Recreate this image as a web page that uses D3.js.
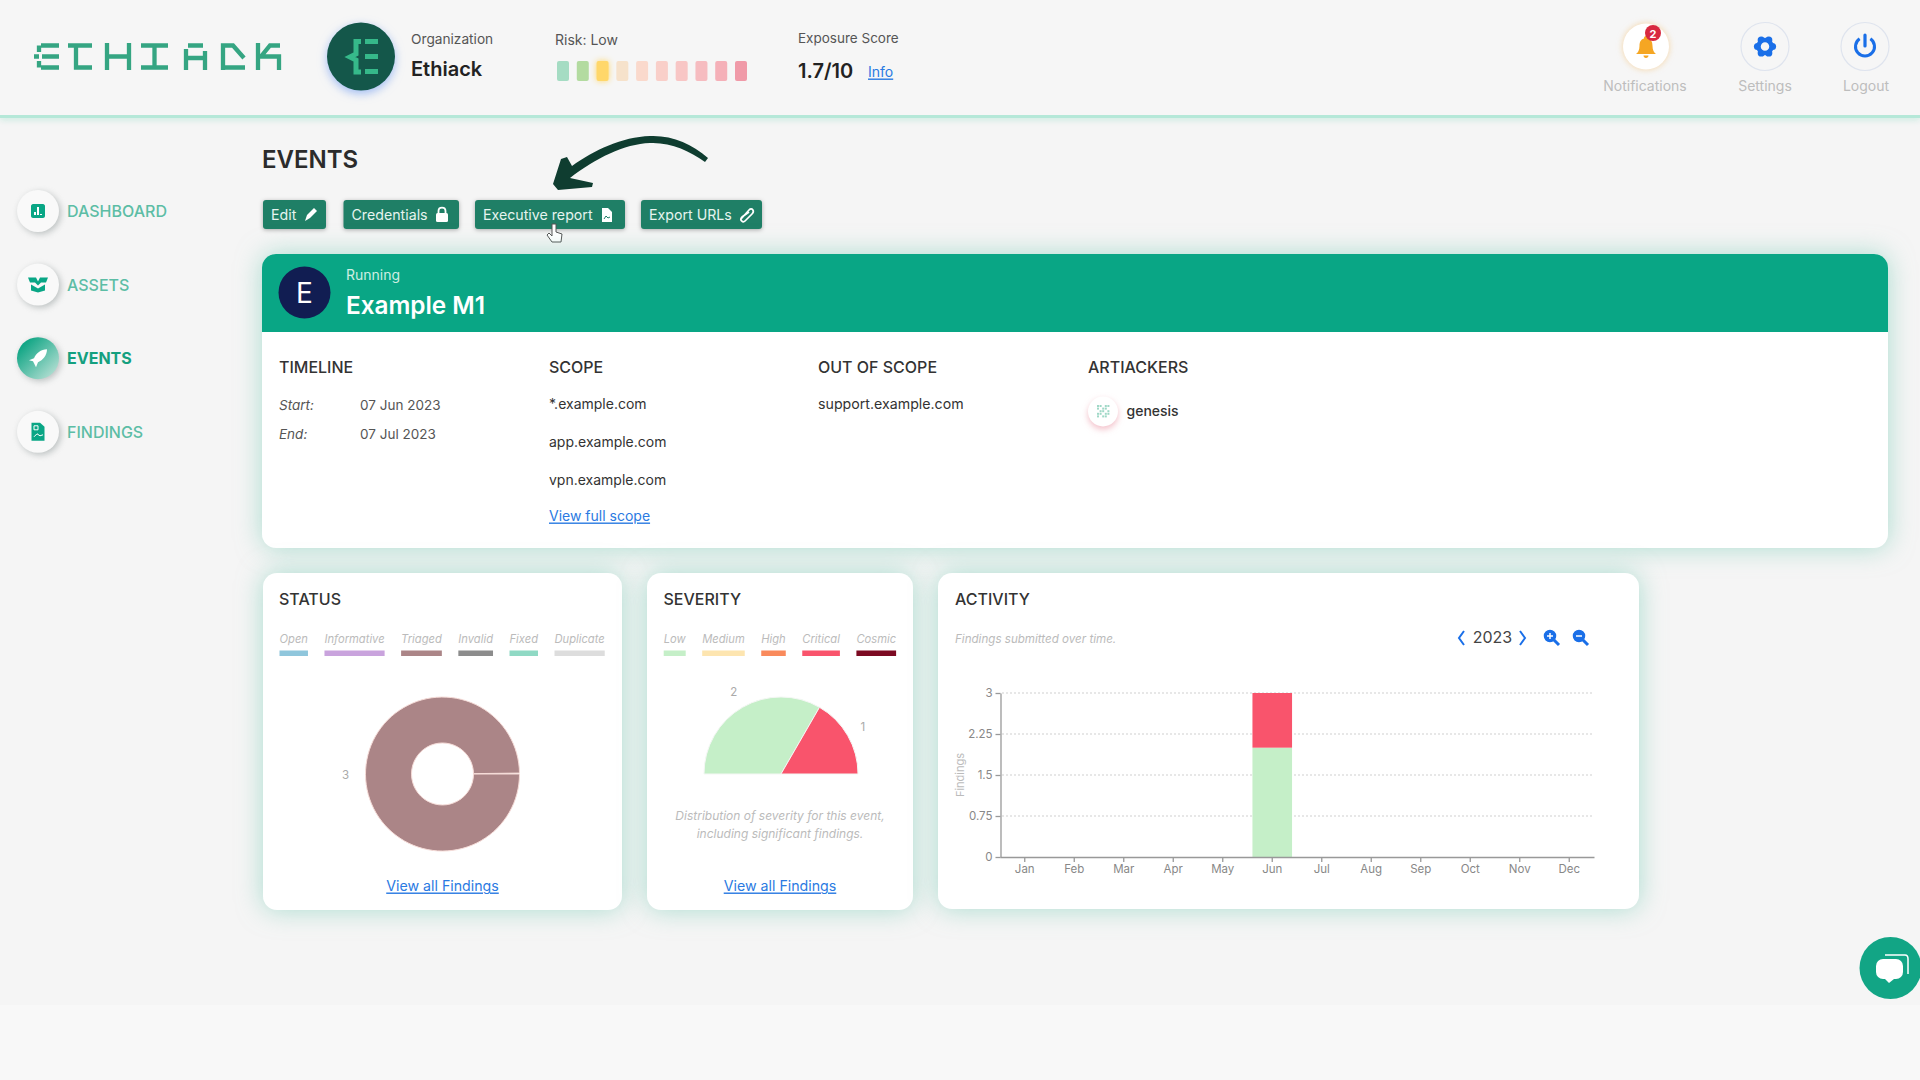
<!DOCTYPE html>
<html>
<head>
<meta charset="utf-8">
<title>Ethiack - Events</title>
<script src="https://cdn.jsdelivr.net/npm/d3@7"></script>
<style>
  html, body { margin: 0; padding: 0; background: #f5f5f5; overflow: hidden; }
  svg { display: block; font-family: Inter, "Noto Sans", sans-serif; }
</style>
</head>
<body>
<svg id="page" width="1920" height="1080"></svg>
<script>
// chart values
const statusNames = ["Open", "Informative", "Triaged", "Invalid", "Fixed", "Duplicate"];
const statusValues = [0, 0, 3, 0, 0, 0];
const statusColors = ["#8fc6dc", "#c9a3dd", "#ab8587", "#8c8c8c", "#8fd9c4", "#dddddd"];

const severityNames = ["Low", "Medium", "High", "Critical", "Cosmic"];
const severityValues = [2, 0, 0, 1, 0];
const severityColors = ["#c5efc8", "#fde5b0", "#f98a5c", "#f9546c", "#7c0a22"];

const months = ["Jan", "Feb", "Mar", "Apr", "May", "Jun", "Jul", "Aug", "Sep", "Oct", "Nov", "Dec"];
const lowByMonth = [0, 0, 0, 0, 0, 2, 0, 0, 0, 0, 0, 0];
const criticalByMonth = [0, 0, 0, 0, 0, 1, 0, 0, 0, 0, 0, 0];
const activityTicks = [0, 0.75, 1.5, 2.25, 3];

const riskColors = ["#a5dcc3", "#b3dba0", "#ffd76a", "#f6e2cb", "#fad9cc", "#f9cfc9", "#f8c6c5", "#f6bcc0", "#f5b0b8", "#f09aa8"];
const riskLevels = d3.range(1, 11);

const navItems = ["DASHBOARD", "ASSETS", "EVENTS", "FINDINGS"];
const scopeItems = ["*.example.com", "app.example.com", "vpn.example.com"];

const GREEN = "#09a685", DARKBTN = "#1f7f66", LINK = "#2a7ae2", BLUE = "#1a6fe8";
const svg = d3.select("#page");
const defs = svg.append("defs");

function txt(parent, x, y, str, o) {
  o = o || {};
  return parent.append("text")
    .attr("x", x).attr("y", y)
    .attr("dominant-baseline", "central")
    .attr("text-anchor", o.anchor || "start")
    .attr("font-size", o.size || 14)
    .attr("font-weight", o.weight || 400)
    .attr("font-style", o.italic ? "italic" : "normal")
    .attr("text-decoration", o.underline ? "underline" : "none")
    .attr("fill", o.fill || "#333")
    .text(str);
}

function card(x, y, w, h) {
  return svg.append("rect")
    .attr("x", x).attr("y", y).attr("width", w).attr("height", h).attr("rx", 14)
    .attr("fill", "#fff")
    .style("filter", "drop-shadow(0 0 13px rgba(95,195,170,.5))");
}

// page background and top bar
svg.append("rect").attr("width", 1920).attr("height", 1080).attr("fill", "#f5f5f5");
svg.append("rect").attr("y", 1005).attr("width", 1920).attr("height", 75).attr("fill", "#f8f8f8");
svg.append("rect").attr("y", 115).attr("width", 1920).attr("height", 3).attr("fill", "#b5e8d8")
  .style("filter", "drop-shadow(0 1px 3px rgba(140,220,195,.7))");
svg.append("rect").attr("width", 1920).attr("height", 115).attr("fill", "#f6f6f6");

// logo letters
const logoPaths = [
  [34, "M7 2.5H25M8 13.5H25M7 24.5H25M5 2.5V9M5 18V24.5M0 13.5H5"],
  [68, "M0 2.5H24M8 2.5V24.5H24"],
  [104, "M3 0V27M25 0V27M3 13.5H25"],
  [141, "M0 2.5H27M0 24.5H27M13.5 2.5V24.5"],
  [183, "M5 2.5H20M3 6V27M22 8V27M3 15H22"],
  [220, "M3 27V2.5H13L24 15M3 24.5H25"],
  [255, "M3 0V27M25 2.5H15L6 13.5H24V27"]
];
const logo = svg.append("g").attr("transform", "translate(0,43)");
logoPaths.forEach(p => {
  logo.append("path").attr("transform", `translate(${p[0]},0)`).attr("d", p[1])
    .attr("fill", "none").attr("stroke", "#35a582").attr("stroke-width", 4.3);
});

// organization
svg.append("circle").attr("cx", 361).attr("cy", 56.5).attr("r", 34).attr("fill", "#14574a")
  .style("filter", "drop-shadow(0 3px 5px rgba(90,140,240,.55))");
svg.append("path").attr("transform", "translate(347,39)")
  .attr("d", "M14 2.5H9V15L3 18L9 21V33H14M18 2.5H31M18 17.5H31M18 32.5H31")
  .attr("fill", "none").attr("stroke", "#36b98a").attr("stroke-width", 5);
txt(svg, 411, 39, "Organization", {size: 13.7, fill: "#555"});
txt(svg, 411, 69, "Ethiack", {size: 20, weight: 600, fill: "#222"});

// risk meter
txt(svg, 555, 39, "Risk: Low", {size: 14, fill: "#555"});
const riskX = d3.scaleLinear().domain([1, 10]).range([557, 735]);
svg.selectAll("rect.risk").data(riskLevels).enter().append("rect")
  .attr("class", "risk")
  .attr("x", d => riskX(d)).attr("y", 61)
  .attr("width", 12).attr("height", 20).attr("rx", 2)
  .attr("fill", (d, i) => riskColors[i])
  .style("filter", d => d === 3 ? "drop-shadow(0 0 3px #ffd76a)" : null);

// exposure score
txt(svg, 798, 38, "Exposure Score", {size: 13.5, fill: "#555"});
txt(svg, 798, 71, "1.7/10", {size: 20, weight: 600, fill: "#222"});
txt(svg, 868, 71, "Info", {size: 14, fill: LINK, underline: true});

// top right buttons
svg.append("circle").attr("cx", 1646).attr("cy", 46.5).attr("r", 23).attr("fill", "#fff")
  .style("filter", "drop-shadow(0 0 3px rgba(245,190,110,.6))");
svg.append("path").attr("transform", "translate(1636,36)")
  .attr("d", "M10 0C11.5 0 12 1 12 2.5C15.5 3.5 16.5 6.5 16.5 10C16.5 14 18 16.5 20 18H0C2 16.5 3.5 14 3.5 10C3.5 6.5 4.5 3.5 8 2.5C8 1 8.5 0 10 0ZM7.5 19.5H12.5C12.5 21 11.5 22 10 22C8.5 22 7.5 21 7.5 19.5Z")
  .attr("fill", "#f5a623");
svg.append("circle").attr("cx", 1653).attr("cy", 33).attr("r", 8).attr("fill", "#d8293f");
txt(svg, 1653, 33.5, "2", {size: 11, weight: 700, fill: "#fff", anchor: "middle"});
[1765, 1865].forEach(cx => {
  svg.append("circle").attr("cx", cx).attr("cy", 46.5).attr("r", 24)
    .attr("fill", "none").attr("stroke", "#dfe4ee").attr("stroke-width", 1.2);
});
// gear
d3.range(6).forEach(i => {
  const a = i * Math.PI / 3;
  svg.append("circle").attr("cx", 1765 + 7.5 * Math.cos(a)).attr("cy", 46.5 + 7.5 * Math.sin(a))
    .attr("r", 3.6).attr("fill", BLUE);
});
svg.append("circle").attr("cx", 1765).attr("cy", 46.5).attr("r", 6.5)
  .attr("fill", "#f6f6f6").attr("stroke", BLUE).attr("stroke-width", 4.5);
// power
svg.append("path").attr("transform", "translate(1865,46.5)")
  .attr("d", d3.arc()({innerRadius: 8, outerRadius: 11, startAngle: 0.6, endAngle: 2 * Math.PI - 0.6}))
  .attr("fill", BLUE);
svg.append("path").attr("d", "M1865 35V46").attr("stroke", BLUE).attr("stroke-width", 3.2).attr("stroke-linecap", "round");
txt(svg, 1645, 85, "Notifications", {size: 14, fill: "#bdbdbd", anchor: "middle"});
txt(svg, 1765, 85, "Settings", {size: 14, fill: "#bdbdbd", anchor: "middle"});
txt(svg, 1866, 85, "Logout", {size: 14, fill: "#bdbdbd", anchor: "middle"});

// side navigation
const navIcons = [
  "M-5 -7H5C6 -7 7 -6 7 -5V5C7 6 6 7 5 7H-5C-6 7 -7 6 -7 5V-5C-7 -6 -6 -7 -5 -7Z",
  "M-10 -7H-2L0 -3L2 -7H10L8 -2H3L0 1L-3 -2H-8ZM-7 0L0 4L7 0V6L0 8L-7 6Z",
  "M9 -9C3 -9 -2 -5 -4 0L-9 2L-5 3L-3 7L-2 9L0 4C5 2 9 -3 9 -9Z",
  "M-6.5 -9H2L6.5 -5V9H-6.5Z"
];
const navGrad = defs.append("linearGradient").attr("id", "navActive")
  .attr("x1", 0).attr("y1", 0).attr("x2", 1).attr("y2", 1);
navGrad.append("stop").attr("offset", "0.15").attr("stop-color", "#0fa584");
navGrad.append("stop").attr("offset", "1").attr("stop-color", "#c9e6dd");
navItems.forEach((name, i) => {
  const y = 211 + i * 73.6, active = name === "EVENTS";
  svg.append("circle").attr("cx", 38).attr("cy", y).attr("r", 21)
    .attr("fill", active ? "url(#navActive)" : "#f9f9f9")
    .style("filter", "drop-shadow(2px 2px 3px rgba(120,130,130,.45))");
  svg.append("path").attr("transform", `translate(38,${y})`).attr("d", navIcons[i])
    .attr("fill", active ? "#fff" : GREEN);
  if (i === 0) {
    svg.append("path").attr("transform", `translate(38,${y})`).attr("d", "M-3 4V1M0 4V-4M3 4V3")
      .attr("stroke", "#fff").attr("stroke-width", 2).attr("fill", "none");
  }
  if (i === 3) {
    svg.append("path").attr("transform", `translate(38,${y})`).attr("d", "M-4 -6H0V-2H-4ZM-4 5L-1 2L2 4L5 3")
      .attr("stroke", "#fff").attr("stroke-width", 1).attr("fill", "none");
  }
  txt(svg, 67, y, name, {size: 16, weight: active ? 700 : 500, fill: active ? "#14a07f" : "#5cbda5"});
});

// heading and action buttons
txt(svg, 262, 159, "EVENTS", {size: 24, weight: 600, fill: "#2b2b2b"});
const buttons = [
  {label: "Edit", x: 263, w: 63},
  {label: "Credentials", x: 343.5, w: 115.5},
  {label: "Executive report", x: 475, w: 150},
  {label: "Export URLs", x: 641, w: 121}
];
buttons.forEach(b => {
  svg.append("rect").attr("x", b.x).attr("y", 200).attr("width", b.w).attr("height", 29).attr("rx", 3)
    .attr("fill", DARKBTN).style("filter", "drop-shadow(0 1px 2px rgba(0,0,0,.3))");
  txt(svg, b.x + 8, 214.5, b.label, {size: 14.2, fill: "#e6f4ef"});
});
svg.append("path").attr("d", "M305 221L307 215L314 208L317 211L310 218Z").attr("fill", "#fff");
// lock
svg.append("rect").attr("x", 436).attr("y", 213).attr("width", 12).attr("height", 9).attr("rx", 1.5).attr("fill", "#fff");
svg.append("path").attr("d", "M438.5 213V211C438.5 206.5 445.5 206.5 445.5 211V213")
  .attr("fill", "none").attr("stroke", "#fff").attr("stroke-width", 1.8);
// file
svg.append("path").attr("d", "M602 208H608L612 212V222H602Z").attr("fill", "#fff");
svg.append("path").attr("d", "M604 219L606 216L608 218L610 217").attr("fill", "none").attr("stroke", DARKBTN).attr("stroke-width", 1);
// paper clip
svg.append("path").attr("d", "M741 219L749 210C752 207 755 211 752 214L745 221C743 223 739 220 742 217L749 212")
  .attr("fill", "none").attr("stroke", "#fff").attr("stroke-width", 1.7);

// hand drawn arrow
svg.append("path")
  .attr("d", "M708 158C692 144 672 135 650 136C622 137 594 150 572 166L567 157L561 159L553 184L558 190L592 187L593 183L570 178C596 158 624 144 650 143C670 142 690 151 705 162Z")
  .attr("fill", "#0f3d30");
// mouse pointer
svg.append("path")
  .attr("d", "M552 224V236L549 233L547 235L552 242H561L562 234L556 232V224Z")
  .attr("fill", "#fff").attr("stroke", "#555").attr("stroke-width", 1);

// event card
card(262, 254, 1626, 294);
defs.append("clipPath").attr("id", "evHead").append("rect")
  .attr("x", 262).attr("y", 254).attr("width", 1626).attr("height", 294).attr("rx", 14);
svg.append("rect").attr("x", 262).attr("y", 254).attr("width", 1626).attr("height", 78)
  .attr("fill", GREEN).attr("clip-path", "url(#evHead)");
svg.append("circle").attr("cx", 304.5).attr("cy", 292.5).attr("r", 26).attr("fill", "#111d52");
txt(svg, 304.5, 293, "E", {size: 28, fill: "#fff", anchor: "middle"});
txt(svg, 346, 274, "Running", {size: 14, fill: "#cdeee2"});
txt(svg, 346, 304.5, "Example M1", {size: 24.3, weight: 600, fill: "#fff"});

[["TIMELINE", 279], ["SCOPE", 549], ["OUT OF SCOPE", 818], ["ARTIACKERS", 1088]].forEach(h => {
  txt(svg, h[1], 366.5, h[0], {size: 16, weight: 500, fill: "#333"});
});
txt(svg, 279, 405, "Start:", {size: 13.5, italic: true, fill: "#555"});
txt(svg, 360, 405, "07 Jun 2023", {size: 13.5, fill: "#555"});
txt(svg, 279, 433.5, "End:", {size: 13.5, italic: true, fill: "#555"});
txt(svg, 360, 433.5, "07 Jul 2023", {size: 13.5, fill: "#555"});
scopeItems.forEach((s, i) => txt(svg, 549, 403.5 + i * 37.8, s, {size: 14, fill: "#333"}));
txt(svg, 549, 515, "View full scope", {size: 14, fill: LINK, underline: true});
txt(svg, 818, 403.5, "support.example.com", {size: 14.2, fill: "#333"});
svg.append("circle").attr("cx", 1103).attr("cy", 411.5).attr("r", 15).attr("fill", "#fff")
  .style("filter", "drop-shadow(0 3px 3px rgba(235,150,165,.6))");
// identicon dots of the artiacker avatar
d3.range(5).forEach(r => d3.range(5).forEach(c => {
  if ((r + c) % 3 !== 2) {
    svg.append("rect").attr("x", 1097 + c * 2.6).attr("y", 405 + r * 2.6)
      .attr("width", 2).attr("height", 2).attr("fill", "#9fd8c6");
  }
}));
txt(svg, 1126.5, 410, "genesis", {size: 14, weight: 500, fill: "#333"});

// status card
card(263, 573, 359, 337);
txt(svg, 279, 598.5, "STATUS", {size: 16, weight: 500, fill: "#333"});
legend(279.5, statusNames, statusColors);
const donutArc = d3.arc().innerRadius(31).outerRadius(77);
const donutLabel = d3.arc().innerRadius(97).outerRadius(97);
const statusPie = d3.pie().sort(null).startAngle(Math.PI / 2).endAngle(2.5 * Math.PI - 0.012);
const statusData = statusPie(statusValues).filter(d => d.value > 0);
const statusG = svg.append("g").attr("transform", "translate(442.5,774)");
statusG.selectAll("path").data(statusData).enter().append("path")
  .attr("d", donutArc)
  .attr("fill", d => statusColors[d.index])
  .attr("stroke", "#f6dcd8").attr("stroke-width", 1);
statusData.forEach(d => {
  const c = donutLabel.centroid(d);
  txt(statusG, c[0], c[1], d.value, {size: 11.5, fill: "#aaa", anchor: "middle"});
});

// severity card
card(647, 573, 266, 337);
txt(svg, 663.5, 598.5, "SEVERITY", {size: 16, weight: 500, fill: "#333"});
legend(663.7, severityNames, severityColors);
const gaugeArc = d3.arc().innerRadius(0).outerRadius(77);
const gaugeLabel = d3.arc().innerRadius(94.5).outerRadius(94.5);
const severityPie = d3.pie().sort(null).startAngle(-Math.PI / 2).endAngle(Math.PI / 2);
const severityData = severityPie(severityValues).filter(d => d.value > 0);
const gaugeG = svg.append("g").attr("transform", "translate(781,774)");
gaugeG.selectAll("path").data(severityData).enter().append("path")
  .attr("d", gaugeArc)
  .attr("fill", d => severityColors[d.index])
  .attr("stroke", "#f4f7f4").attr("stroke-width", 1);
severityData.forEach(d => {
  const c = gaugeLabel.centroid(d);
  txt(gaugeG, c[0], c[1], d.value, {size: 11.5, fill: "#aaa", anchor: "middle"});
});
txt(svg, 780, 815.5, "Distribution of severity for this event,", {size: 12, italic: true, fill: "#bbb", anchor: "middle"});
txt(svg, 780, 833.5, "including significant findings.", {size: 12, italic: true, fill: "#bbb", anchor: "middle"});
txt(svg, 442.5, 885, "View all Findings", {size: 14.2, fill: LINK, underline: true, anchor: "middle"});
txt(svg, 780, 885, "View all Findings", {size: 14.2, fill: LINK, underline: true, anchor: "middle"});

// activity card
card(938, 573, 701, 336);
txt(svg, 955, 598.5, "ACTIVITY", {size: 16, weight: 500, fill: "#333"});
txt(svg, 955, 639, "Findings submitted over time.", {size: 11.6, italic: true, fill: "#bbb"});
txt(svg, 1492.5, 637, "2023", {size: 16, fill: "#444", anchor: "middle"});
svg.append("path").attr("d", "M1464 631L1459 638L1464 645M1520 631L1525 638L1520 645")
  .attr("fill", "none").attr("stroke", BLUE).attr("stroke-width", 2);
[1550, 1579].forEach((x, i) => {
  svg.append("circle").attr("cx", x).attr("cy", 636).attr("r", 5.5)
    .attr("fill", BLUE).attr("stroke", BLUE).attr("stroke-width", 1.5);
  svg.append("path").attr("d", `M${x + 4} ${640}L${x + 9} ${645}`).attr("stroke", BLUE).attr("stroke-width", 3);
  svg.append("path").attr("d", i === 0 ? `M${x - 3} 636H${x + 3}M${x} 633V639` : `M${x - 3} 636H${x + 3}`)
    .attr("stroke", "#fff").attr("stroke-width", 1.5);
});

const xBand = d3.scaleBand().domain(months).range([1000, 1594]).paddingInner(0.2).paddingOuter(0.1);
const yFind = d3.scaleLinear().domain([0, 3]).range([857, 693]);
const stackRows = months.map((m, i) => ({month: m, low: lowByMonth[i], critical: criticalByMonth[i]}));
const stacked = d3.stack().keys(["low", "critical"])(stackRows);
const stackColors = {low: severityColors[0], critical: severityColors[3]};

// dotted grid
svg.append("g").selectAll("line").data(activityTicks.slice(1)).enter().append("line")
  .attr("x1", xBand.range()[0] + 2).attr("x2", xBand.range()[1] - 2)
  .attr("y1", d => yFind(d)).attr("y2", d => yFind(d))
  .attr("stroke", "#cfcfcf").attr("stroke-width", 1.2).attr("stroke-dasharray", "2 2");

stacked.forEach(layer => {
  svg.append("g").selectAll("rect").data(layer.filter(d => d[1] > d[0])).enter().append("rect")
    .attr("x", d => xBand(d.data.month))
    .attr("y", d => yFind(d[1]))
    .attr("width", xBand.bandwidth())
    .attr("height", d => yFind(d[0]) - yFind(d[1]))
    .attr("fill", stackColors[layer.key]);
});

const xAxis = svg.append("g").attr("transform", "translate(0,857)")
  .call(d3.axisBottom(xBand).tickSize(5).tickSizeOuter(0));
const yAxis = svg.append("g").attr("transform", "translate(1000.5,0)")
  .call(d3.axisLeft(yFind).tickValues(activityTicks).tickFormat(d => d).tickSize(5).tickSizeOuter(0));
[xAxis, yAxis].forEach(a => {
  a.selectAll("path,line").attr("stroke", "#999").attr("stroke-width", 1.3);
  a.selectAll("text").attr("fill", "#888").attr("font-size", 11.5).attr("font-family", "Inter");
});
txt(svg, 0, 0, "Findings", {size: 11, fill: "#bbb", anchor: "middle"})
  .attr("transform", "translate(960,775) rotate(-90)");

// chat bubble
svg.append("circle").attr("cx", 1890.5).attr("cy", 968).attr("r", 31).attr("fill", "#12a585");
svg.append("path").attr("d", "M1885 955H1905C1907 955 1908 957 1908 959V974")
  .attr("fill", "none").attr("stroke", "#fff").attr("stroke-width", 1.5);
svg.append("rect").attr("x", 1876).attr("y", 959).attr("width", 27).attr("height", 20).attr("rx", 7).attr("fill", "#fff");
svg.append("path").attr("d", "M1885 979H1894L1889 983Z").attr("fill", "#fff");

// function hoisted: labels with coloured swatch under each, sized by its text
function legend(startX, names, colors) {
  let x = startX;
  names.forEach((name, i) => {
    const label = txt(svg, x, 639, name, {size: 11.2, italic: true, fill: "#bbb"});
    const w = label.node().getComputedTextLength();
    svg.append("rect").attr("x", x).attr("y", 650.5).attr("width", w).attr("height", 5.5)
      .attr("fill", colors[i]);
    x += w + 16.5;
  });
}
</script>
</body>
</html>
